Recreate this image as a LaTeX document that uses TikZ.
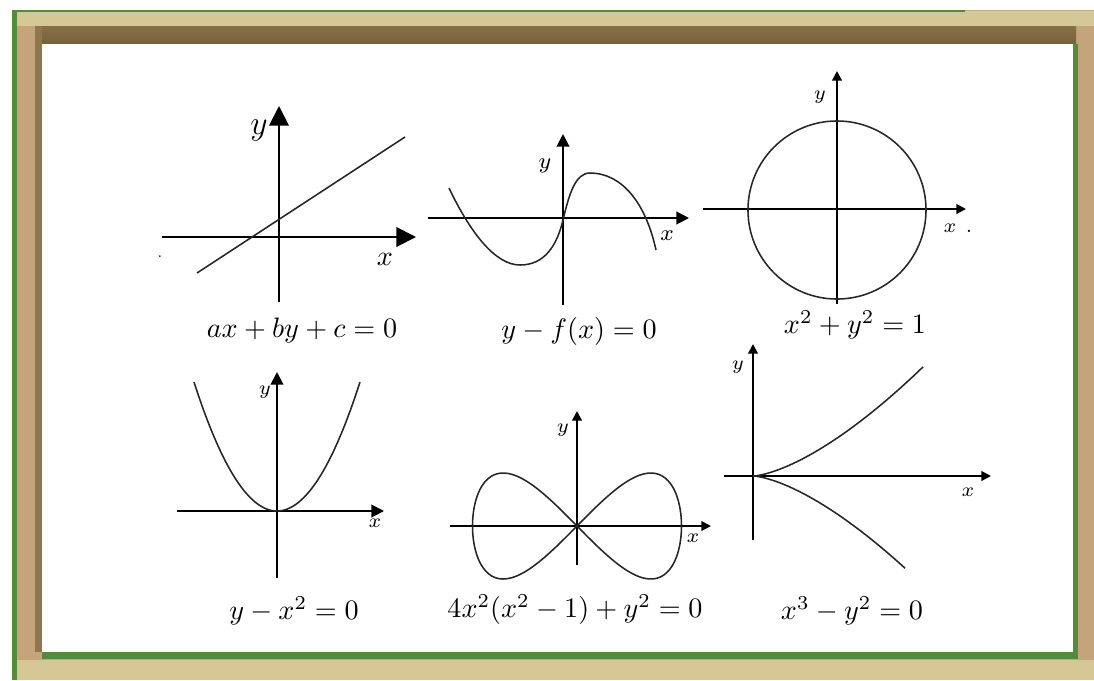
\documentclass[tikz,border=0pt]{standalone}
\usepackage{amsmath,amssymb}
\usepackage{xcolor}
\usetikzlibrary{arrows.meta, positioning, calc}

\definecolor{framegreen}{RGB}{84,140,62}
\definecolor{woodlight}{RGB}{214,200,150}
\definecolor{woodmid}{RGB}{196,164,122}
\definecolor{wooddark}{RGB}{118,98,58}

\begin{document}
\begin{tikzpicture}[x=0.0125cm, y=-0.0125cm,
    axis/.style={line width=0.7pt},
    curve/.style={line width=0.55pt, black!85},
    tipbig/.style={-{Triangle[length=7pt, width=7pt]}},
    tipmid/.style={-{Triangle[length=4.5pt, width=4.5pt]}},
    tipsmall/.style={-{Triangle[length=3.4pt, width=3.4pt]}},
    eqn/.style={font=\normalsize, inner sep=1pt},
    lbl/.style={font=\scriptsize, inner sep=1pt}
]
    \useasboundingbox (0,0) rectangle (1094,680);

    % frame
    \fill[woodmid] (12,10) rectangle (1094,680);
    \fill[woodlight] (12,11) rectangle (1094,26);
    \shade[top color=wooddark!80!woodmid, bottom color=wooddark] (35,26) rectangle (1076,44);
    \fill[wooddark!70!woodmid] (35,26) rectangle (42,652);
    \fill[woodlight] (17,660) rectangle (1094,680);
    \fill[framegreen] (12,10) rectangle (17,680);
    \fill[framegreen] (12,10) rectangle (965,12);
    \fill[framegreen] (42,652) rectangle (1078,659);
    \fill[framegreen] (1073,44) rectangle (1078,659);
    \fill[white] (42,44) rectangle (1073,652);

    % ax+by+c=0
    \draw[axis, tipbig] (162,237) -- (416,237);
    \draw[axis, tipbig] (279,302) -- (279,106);
    \draw[curve] (197,273) -- (405,137);
    \node[font=\large, inner sep=1pt] (y1) at (259,131) {$y$};
    \node[inner sep=1pt] (x1) at (385,259) {$x$};
    \node[font=\tiny, inner sep=0pt] (dot1) at (160,257) {.};
    \node[eqn] (e1) at (302,330) {$ax+by+c=0$};

    % y-f(x)=0
    \draw[axis, tipmid] (428,218) -- (689,218);
    \draw[axis, tipmid] (563,305) -- (563,134);
    \draw[curve] (449,188) .. controls (470,232) and (495,265) .. (520,265)
        .. controls (545,265) and (557,245) .. (563,220)
        .. controls (569,195) and (575,173) .. (590,173)
        .. controls (620,173) and (645,200) .. (656,250);
    \node[lbl, font=\footnotesize] (y2) at (545,166) {$y$};
    \node[lbl, font=\footnotesize] (x2) at (667,236) {$x$};
    \node[eqn] (e2) at (579,331) {$y-f(x)=0$};

    % x^2+y^2=1
    \draw[axis, tipsmall] (703,209) -- (966,209);
    \draw[axis, tipsmall] (837,304) -- (837,71);
    \draw[curve] (837,210) circle[radius=1.1125cm];
    \node[lbl] (y3) at (820,97) {$y$};
    \node[lbl] (x3) at (950,228) {$x$};
    \node[lbl, right=1pt of x3.base east, anchor=base west] (dot3) {.};
    \node[eqn] (e3) at (855,325) {$x^2+y^2=1$};

    % y-x^2=0
    \draw[axis, tipmid] (177,511) -- (384,511);
    \draw[axis, tipmid] (277,578) -- (277,372);
    \draw[curve] plot[domain=-83:83, samples=60, smooth] ({277+\x}, {511-129*(\x/83)^2});
    \node[lbl] (y4) at (265,392) {$y$};
    \node[lbl] (x4) at (375,523) {$x$};
    \node[eqn] (e4) at (294,611) {$y-x^2=0$};

    % 4x^2(x^2-1)+y^2=0
    \draw[axis, tipsmall] (450,526) -- (711,526);
    \draw[axis, tipsmall] (577,565) -- (577,411);
    \draw[curve] plot[domain=0:360, samples=120, smooth] ({577+104.5*sin(\x)}, {526-53*sin(2*\x)});
    \node[lbl] (y5) at (563,430) {$y$};
    \node[lbl] (x5) at (693,538) {$x$};
    \node[eqn] (e5) at (575,610) {$4x^2(x^2-1)+y^2=0$};

    % x^3-y^2=0
    \draw[axis, tipsmall] (724,476) -- (991,476);
    \draw[axis, tipsmall] (753,540) -- (753,344);
    \draw[curve] plot[domain=-12.33:13.04, samples=80, smooth] ({753+\x*\x}, {476-0.0492*\x*\x*\x});
    \node[lbl] (y6) at (738,367) {$y$};
    \node[lbl] (x6) at (968,492) {$x$};
    \node[eqn] (e6) at (852,611) {$x^3-y^2=0$};
\end{tikzpicture}
\end{document}
